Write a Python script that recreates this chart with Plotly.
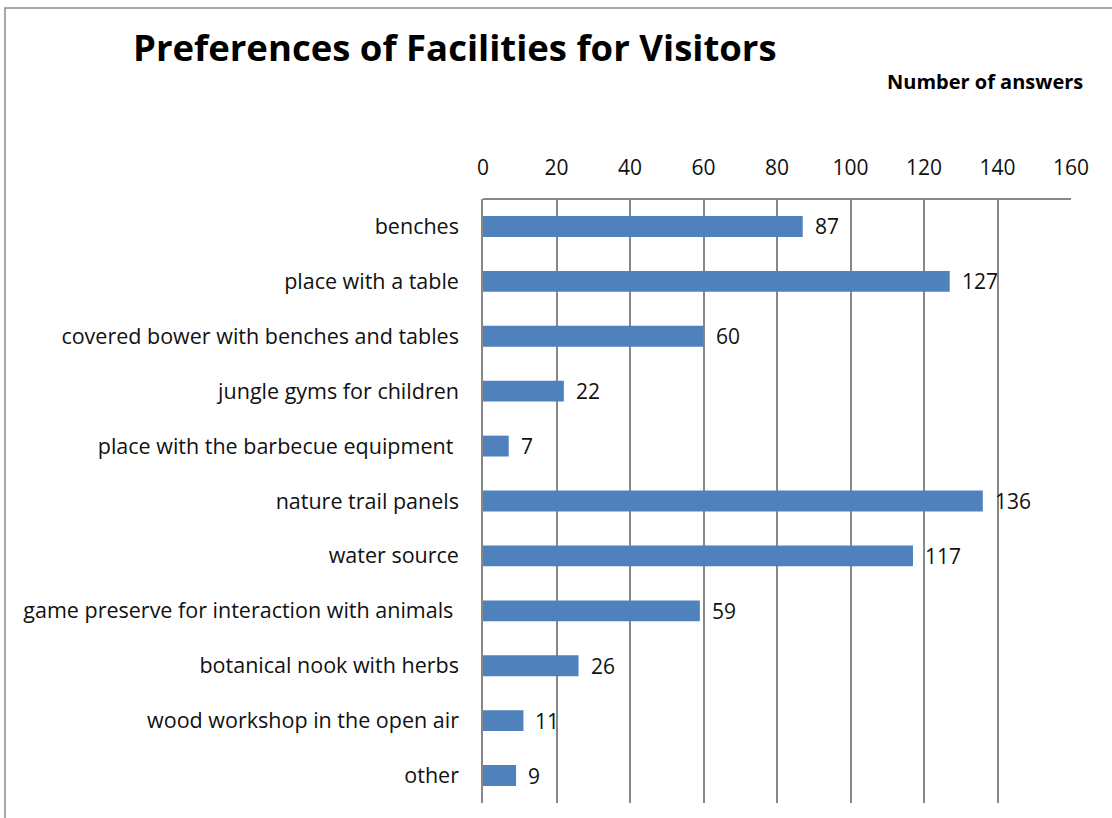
import plotly.graph_objects as go

# Survey results: preferred facilities
categories = [
    "benches",
    "place with a table",
    "covered bower with benches and tables",
    "jungle gyms for children",
    "place with the barbecue equipment\u00a0",
    "nature trail panels",
    "water source",
    "game preserve for interaction with animals\u00a0",
    "botanical nook with herbs",
    "wood workshop in the open air",
    "other",
]
answers = [87, 127, 60, 22, 7, 136, 117, 59, 26, 11, 9]
tick_values = [0, 20, 40, 60, 80, 100, 120, 140, 160]

W, H = 1112, 818
L, R, T, B = 483, 41, 199, 15
pw, ph = W - L - R, H - T - B

FONT = "Open Sans"
BAR = "#4F81BD"
GRID = "#878787"

fig = go.Figure(
    go.Bar(
        x=answers,
        y=categories,
        orientation="h",
        marker=dict(color=BAR, line=dict(width=0)),
        width=0.38,
        hoverinfo="x+y",
    )
)

# value labels just beyond the end of each bar
for cat, val in zip(categories, answers):
    fig.add_annotation(
        x=val, y=cat, xref="x", yref="y",
        text=str(val), showarrow=False,
        xanchor="left", xshift=10,
        font=dict(family=FONT, size=21, color="#111111"),
    )

# title and axis caption
fig.add_annotation(
    x=(131 - L) / pw, y=1 + (T - 47) / ph, xref="paper", yref="paper",
    text="<b>Preferences of Facilities for Visitors</b>", showarrow=False,
    xanchor="left", yanchor="middle",
    font=dict(family=FONT, size=36.5, color="#000000"),
)
fig.add_annotation(
    x=(1085 - L) / pw, y=1 + (T - 82) / ph, xref="paper", yref="paper",
    text="<b>Number of answers</b>", showarrow=False,
    xanchor="right", yanchor="middle",
    font=dict(family=FONT, size=20, color="#000000"),
)

# plot frame: top edge, plus the outer chart border
fig.add_shape(type="line", xref="paper", yref="paper", x0=0, x1=1, y0=1, y1=1,
              line=dict(color=GRID, width=2))
fig.add_shape(type="rect", xref="paper", yref="paper",
              x0=(5 - L) / pw, x1=(1120 - L) / pw,
              y0=1 - (825 - T) / ph, y1=1 + (T - 8) / ph,
              line=dict(color="#8a8a8a", width=1.5), layer="below")

fig.update_layout(
    width=W, height=H,
    margin=dict(l=L, r=R, t=T, b=B, autoexpand=False),
    paper_bgcolor="white", plot_bgcolor="white",
    showlegend=False,
    bargap=0.62,
    font=dict(family=FONT, size=21, color="#000000"),
    xaxis=dict(
        side="top", range=[0, 160], tickvals=tick_values,
        showgrid=True, gridcolor=GRID, gridwidth=1.5,
        zeroline=False, showline=False, ticks="",
        ticklabelstandoff=19,
        tickfont=dict(family=FONT, size=21, color="#111111"),
        fixedrange=True,
    ),
    yaxis=dict(
        autorange="reversed", showgrid=False, zeroline=False,
        showline=True, linecolor=GRID, linewidth=1.5, ticks="",
        ticklabelstandoff=18,
        tickfont=dict(family=FONT, size=21.5, color="#111111"),
        fixedrange=True,
    ),
)

fig.write_html("out.html")
